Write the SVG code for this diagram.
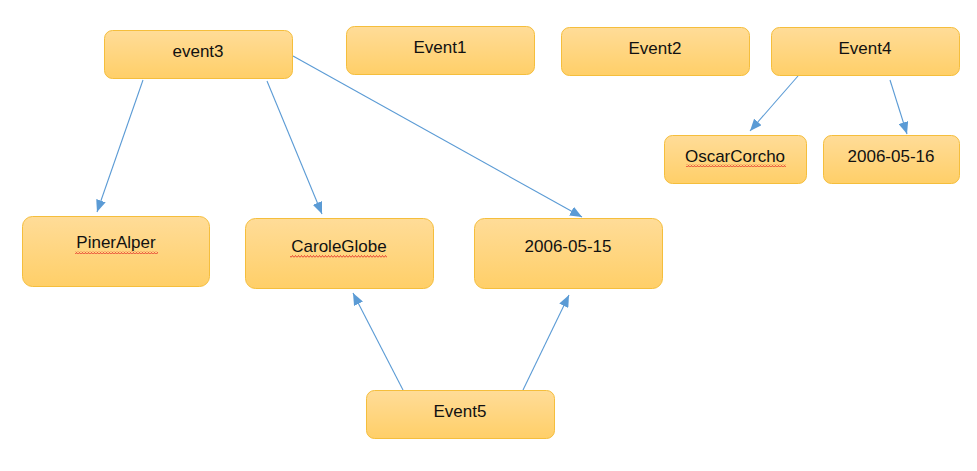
<svg xmlns="http://www.w3.org/2000/svg" width="977" height="471" viewBox="0 0 977 471">
<style>
.box{fill:url(#g);stroke:#F5BE3C;stroke-width:1}
.lbl{font-family:"Liberation Sans",Arial,sans-serif;font-size:17px;fill:#111;text-anchor:middle}
.edge{stroke:#5B9BD5;stroke-width:1.1;fill:none;marker-end:url(#ah)}
</style>
<defs>
<linearGradient id="g" x1="0" y1="0" x2="0" y2="1">
<stop offset="0" stop-color="#FFDC98"/>
<stop offset="1" stop-color="#FFCF68"/>
</linearGradient>
<marker id="ah" markerUnits="userSpaceOnUse" markerWidth="12" markerHeight="10" viewBox="0 0 12 10" refX="12" refY="5" orient="auto">
<path d="M0,0 L12,5 L0,10 Z" fill="#5B9BD5"/>
</marker>
<pattern id="sq" patternUnits="userSpaceOnUse" width="3" height="3">
<path d="M0,2.5 L1.5,0.5 L3,2.5" stroke="#E02020" stroke-width="0.8" fill="none"/>
</pattern>
</defs>
<rect width="977" height="471" fill="#fff"/>
<g id="connectors">
<line class="edge" x1="143" y1="80" x2="97" y2="212"/>
<line class="edge" x1="267" y1="81" x2="322" y2="214"/>
<line class="edge" x1="293" y1="56" x2="582" y2="217"/>
<line class="edge" x1="798" y1="76" x2="750" y2="131"/>
<line class="edge" x1="890" y1="80" x2="907" y2="134"/>
<line class="edge" x1="403" y1="390" x2="353" y2="293"/>
<line class="edge" x1="523" y1="390" x2="569" y2="295"/>
</g>
<g id="event3"><rect class="box" x="104.5" y="30.5" width="188" height="48" rx="8"/><text class="lbl" x="198" y="57">event3</text></g>
<g id="Event1"><rect class="box" x="346.5" y="26.5" width="188" height="48" rx="8"/><text class="lbl" x="440" y="53">Event1</text></g>
<g id="Event2"><rect class="box" x="561.5" y="27.5" width="188" height="48" rx="8"/><text class="lbl" x="655" y="54">Event2</text></g>
<g id="Event4"><rect class="box" x="771.5" y="27.5" width="188" height="48" rx="8"/><text class="lbl" x="865" y="54">Event4</text></g>
<g id="OscarCorcho"><rect class="box" x="664.5" y="135.5" width="142" height="48" rx="8"/><text class="lbl" x="735" y="162">OscarCorcho</text><rect x="686" y="164" width="100" height="3" fill="url(#sq)"/></g>
<g id="d20060516"><rect class="box" x="823.5" y="135.5" width="136" height="48" rx="8"/><text class="lbl" x="891" y="162">2006-05-16</text></g>
<g id="PinerAlper"><rect class="box" x="22.5" y="216.5" width="187" height="70" rx="10"/><text class="lbl" x="116" y="248">PinerAlper</text><rect x="75" y="251" width="83" height="3" fill="url(#sq)"/></g>
<g id="CaroleGlobe"><rect class="box" x="245.5" y="218.5" width="188" height="70" rx="10"/><text class="lbl" x="339" y="252">CaroleGlobe</text><rect x="290" y="255" width="97" height="3" fill="url(#sq)"/></g>
<g id="d20060515"><rect class="box" x="474.5" y="218.5" width="188" height="70" rx="10"/><text class="lbl" x="568" y="252">2006-05-15</text></g>
<g id="Event5"><rect class="box" x="366.5" y="390.5" width="188" height="48" rx="8"/><text class="lbl" x="460" y="417">Event5</text></g>
</svg>
